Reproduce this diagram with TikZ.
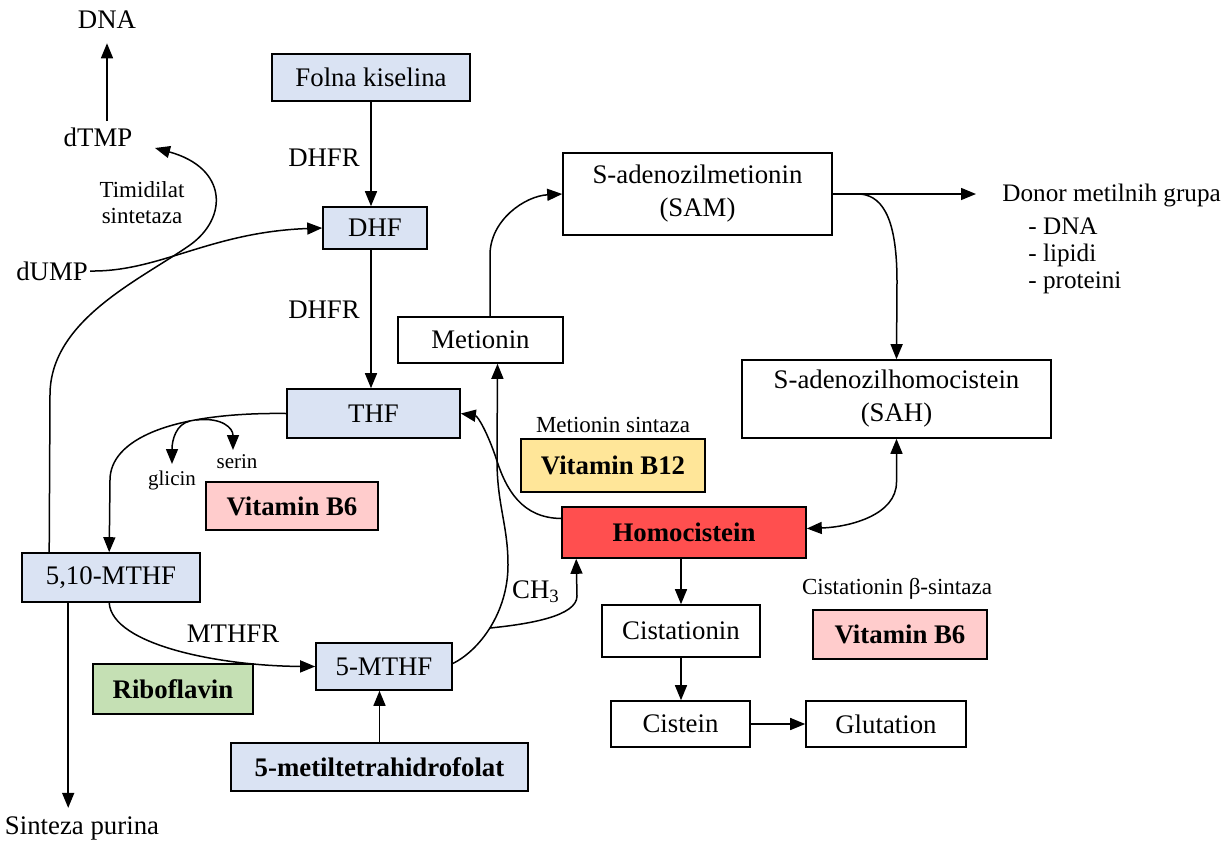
\documentclass[tikz,border=0pt]{standalone}
\usepackage{fontspec}
\setmainfont{Liberation Serif}
\usetikzlibrary{arrows.meta,calc}
\definecolor{lblue}{HTML}{DAE3F3}
\definecolor{lpink}{HTML}{FFCCCC}
\definecolor{lyellow}{HTML}{FFE699}
\definecolor{lgreen}{HTML}{C5E0B4}
\definecolor{hred}{HTML}{FF4F4F}
\begin{document}
\begin{tikzpicture}[x=0.5pt,y=-0.5pt,
  every node/.style={font=\fontsize{13.4}{16.5}\selectfont},
  box/.style={draw=black,line width=0.8pt,inner sep=0pt,align=center},
  wh/.style 2 args={minimum width=#1*0.5pt,minimum height=#2*0.5pt},
  lab/.style={inner sep=1pt},
  small/.style={font=\fontsize{11.5}{13}\selectfont},
  tiny/.style={font=\fontsize{10.5}{12}\selectfont},
  donf/.style={font=\fontsize{12.6}{15}\selectfont},
  arr/.style={line width=0.75pt,-{Triangle[length=7.5pt,width=6pt]}},
  darr/.style={line width=0.75pt,{Triangle[length=7.5pt,width=6pt]}-{Triangle[length=7.5pt,width=6pt]}},
  ln/.style={line width=0.75pt}]
\useasboundingbox (0,0) rectangle (1231,841);

% boxes
\node[box,fill=lblue,wh={198}{47}] (folna) at (371,77.5) {Folna kiselina};
\node[box,fill=lblue,wh={104}{42}] (dhf) at (375,228) {DHF};
\node[box,fill=lblue,wh={173}{49}] (thf) at (373.5,413.5) {THF};
\node[box,fill=lblue,wh={178}{49}] (m510) at (111,577.5) {5,10-MTHF};
\node[box,fill=lblue,wh={136}{47}] (m5) at (384,666.5) {5-MTHF};
\node[box,fill=lblue,wh={297}{48}] (metil) at (379.5,767) {\textbf{5-metiltetrahidrofolat}};
\node[box,fill=lgreen,wh={160}{50}] (ribo) at (173,689) {\textbf{Riboflavin}};
\node[box,fill=lpink,wh={172}{48}] (b6a) at (292,506) {\textbf{Vitamin B6}};
\node[box,wh={165}{46}] (met) at (480.5,340) {Metionin};
\node[box,wh={269}{82}] (sam) at (697.5,194) {S-adenozilmetionin\\(SAM)};
\node[box,wh={309}{78}] (sah) at (896.5,399) {S-adenozilhomocistein\\(SAH)};
\node[box,fill=lyellow,wh={184}{53}] (b12) at (613,465.5) {\textbf{Vitamin B12}};
\node[box,fill=hred,wh={244}{51}] (homo) at (684,532.5) {\textbf{Homocistein}};
\node[box,wh={158}{52}] (cist) at (681,631) {Cistationin};
\node[box,wh={139}{46}] (cis) at (680.5,724) {Cistein};
\node[box,wh={160}{46}] (glu) at (886,724) {Glutation};
\node[box,fill=lpink,wh={174}{49}] (b6b) at (900,634.5) {\textbf{Vitamin B6}};

% labels
\node[lab] (dna) at (107,20) {DNA};
\node[lab] (dtmp) at (98,137) {dTMP};
\node[lab,small,align=center] (tim) at (142,203) {Timidilat\\sintetaza};
\node[lab] (dump) at (52,271) {dUMP};
\node[lab] (dhfr1) at (324,158) {DHFR};
\node[lab] (dhfr2) at (324,310) {DHFR};
\node[lab,tiny] (gli) at (172,480) {glicin};
\node[lab,tiny] (ser) at (237,462) {serin};
\node[lab] (mthfr) at (233,634) {MTHFR};
\node[lab] (ch3) at (536,592) {CH\textsubscript{3}};
\node[lab,small] (msin) at (613,425) {Metionin sintaza};
\node[lab,small] (cbs) at (897,589) {Cistationin β-sintaza};
\node[lab,donf,anchor=west] (don) at (1000,195) {Donor metilnih grupa};
\node[lab,donf,anchor=west] (don1) at (1026,226) {- DNA};
\node[lab,donf,anchor=west] (don2) at (1026,255) {- lipidi};
\node[lab,donf,anchor=west] (don3) at (1026,283) {- proteini};
\node[lab] (spur) at (82,828) {Sinteza purina};

% straight arrows
\draw[arr] (folna.south -| 371,0) -- (dhf.north -| 371,0);
\draw[arr] (dhf.south -| 371,0) -- (thf.north -| 371,0);
\draw[arr,shorten <=2pt,shorten >=6pt] (dtmp.north -| dna.south) -- (dna.south);
\draw[arr] (metil.north) -- (metil.north |- m5.south);
\draw[arr] (cist.north |- homo.south) -- (cist.north);
\draw[arr] (cist.south) -- (cis.north -| cist.south);
\draw[arr] (cis.east) -- (glu.west);
\coordinate (sp0) at ($(m510.south west)+(47,0)$);
\draw[arr,shorten >=3pt] (sp0) -- (sp0 |- spur.north);
\draw[arr,shorten >=12pt] (sam.east) -- (sam.east -| don.west);

% 5,10-MTHF -> dTMP
\coordinate (a0) at ($(m510.north west)+(28,0)$);
\draw[arr] (a0) -- (50,395) .. controls (50,320) and (140,280) .. (190,245)
  .. controls (228,218) and (228,168) .. (155,148);
% dUMP -> DHF
\draw[arr] (dump.east) .. controls (160,272) and (210,232) .. (dhf.west);

% THF -> 5,10-MTHF
\coordinate (b1) at ($(m510.north west)+(88,0)$);
\draw[arr] (thf.west) .. controls (170,412) and (110,440) .. (110,480) -- (b1);
\coordinate (g0) at (190,421);
\draw[arr] (g0) .. controls (176,424) and (172,440) .. (172,464);
\coordinate (s0) at (196,420);
\draw[arr] (s0) .. controls (222,417) and (233,428) .. (233,450);

% 5,10-MTHF -> 5-MTHF
\coordinate (c0) at ($(m510.south west)+(88,0)$);
\draw[arr] (c0) .. controls (112,645) and (220,666) .. (m5.west);

% 5-MTHF -> Metionin
\coordinate (mt) at ($(met.south)+(17,0)$);
\draw[arr] ($(m5.east)+(0,-3)$) .. controls (480,650) and (508,612) .. (508,565)
  .. controls (508,525) and (497,505) .. (497,460) -- (mt);
% CH3 branch
\coordinate (j1) at (490,628);
\coordinate (hb) at ($(homo.south west)+(15,0)$);
\draw[arr] (j1) .. controls (530,624) and (577,616) .. (577,596) -- (hb);

% Homocistein -> THF
\coordinate (h1) at ($(homo.west)+(0,-14)$);
\draw[arr] (h1) .. controls (522,518) and (506,490) .. (496,458)
  .. controls (488,434) and (478,416) .. (thf.east);

% Metionin -> SAM
\coordinate (m1) at ($(met.north)+(9.5,0)$);
\draw[arr] (m1) -- (490,255) .. controls (490,220) and (525,196) .. (sam.west);

% SAM -> SAH
\coordinate (k0) at (860,194);
\draw[arr] (k0) .. controls (886,196) and (897,226) .. (897,282) -- (sah.north);

% SAH <-> Homocistein
\coordinate (he) at ($(homo.east)+(0,-4)$);
\draw[darr] (sah.south) -- (896.5,482) .. controls (896.5,515) and (850,527) .. (he);
\end{tikzpicture}
\end{document}
